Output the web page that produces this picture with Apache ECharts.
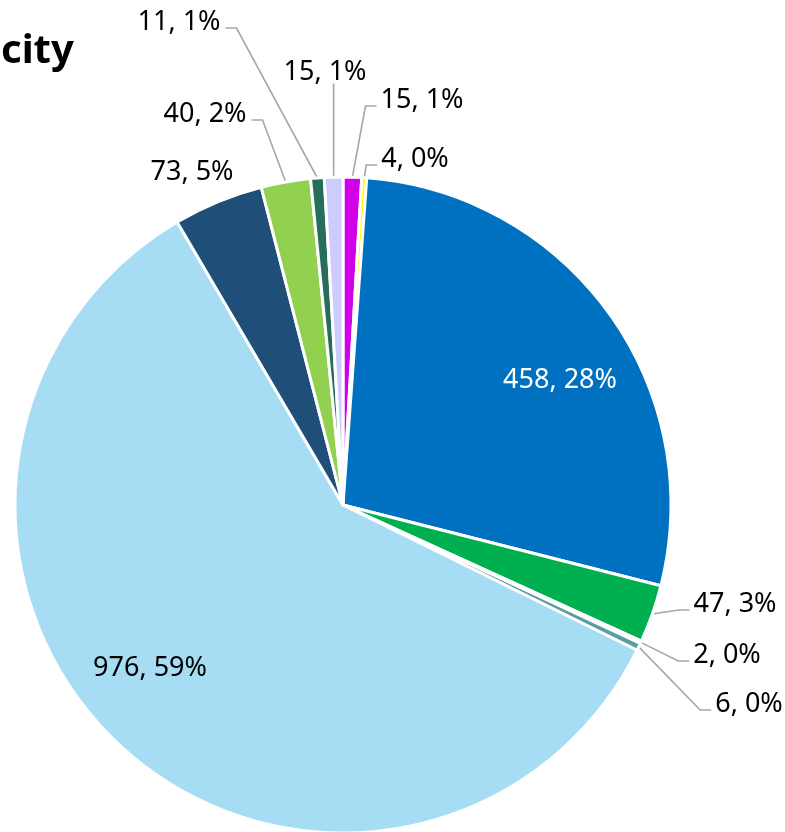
<!DOCTYPE html>
<html>
<head>
<meta charset="utf-8">
<script src="https://cdn.jsdelivr.net/npm/echarts@6/dist/echarts.min.js"></script>
<style>
html,body{margin:0;padding:0;background:#fff;}
#chart{width:785px;height:832px;}
</style>
</head>
<body>
<div id="chart"></div>
<script>
// Data (clockwise from 12 o'clock)
const categories = ['A', 'B', 'C', 'D', 'E', 'F', 'G', 'H', 'I', 'J', 'K'];
const values = [15, 4, 458, 47, 2, 6, 976, 73, 40, 11, 15];
const colors = ['#D200EA', '#FFFF00', '#0070C0', '#00B050', '#2E5E8C', '#5B9EA0',
                '#A6DDF4', '#1F4E79', '#92D050', '#276E5A', '#CCCCFF'];
const titleText = 'city';

// Label placement (style only): centre of each label and where its leader line leaves it
const labelPlace = [
  {x: 422, y: 100, side: 'L'},
  {x: 415, y: 159, side: 'L'},
  {x: 560, y: 380, side: null, color: '#fff'},
  {x: 735, y: 604, side: 'L'},
  {x: 727, y: 655, side: 'L'},
  {x: 749, y: 704, side: 'L'},
  {x: 150, y: 668, side: null},
  {x: 192, y: 172, side: null},
  {x: 205, y: 114, side: 'R'},
  {x: 179, y: 22, side: 'R'},
  {x: 325, y: 72, side: 'B'}
];

const chart = echarts.init(document.getElementById('chart'));
const seriesData = values.map((v, i) => ({
  name: categories[i],
  value: v,
  itemStyle: {color: colors[i]},
  label: {color: labelPlace[i].color || '#000'},
  labelLine: {show: !!labelPlace[i].side}
}));

chart.setOption({
  animation: false,
  title: {
    text: titleText,
    left: -4,
    top: 27,
    textStyle: {fontFamily: 'Noto Sans', fontWeight: 'bold', fontSize: 40, color: '#000'}
  },
  series: [{
    type: 'pie',
    center: [343, 505],
    radius: 328,
    startAngle: 90,
    clockwise: true,
    percentPrecision: 0,
    avoidLabelOverlap: false,
    itemStyle: {borderColor: '#fff', borderWidth: 3},
    label: {
      show: true,
      position: 'outside',
      formatter: '{c}, {d}%',
      fontFamily: 'Noto Sans',
      fontSize: 27,
      color: '#000'
    },
    labelLine: {show: true, lineStyle: {color: '#A6A6A6', width: 1.6}},
    emphasis: {disabled: true},
    data: seriesData,
    labelLayout: function (p) {
      const L = labelPlace[p.dataIndex];
      const res = {x: L.x, y: L.y, align: 'center', verticalAlign: 'middle'};
      if (L.side && p.labelLinePoints) {
        const a = p.labelLinePoints[0];
        const w = p.labelRect.width, h = p.labelRect.height;
        const ly = L.y + 6;
        if (L.side === 'L') {
          const sx = L.x - w / 2 - 4;
          res.labelLinePoints = [a, [sx - 11, ly], [sx, ly]];
        } else if (L.side === 'R') {
          const sx = L.x + w / 2 + 5;
          res.labelLinePoints = [a, [sx + 11, ly], [sx, ly]];
        } else {
          const sy = L.y + h / 2 - 2;
          res.labelLinePoints = [a, [a[0], sy], [a[0], sy]];
        }
      }
      return res;
    }
  }]
});
</script>
</body>
</html>
